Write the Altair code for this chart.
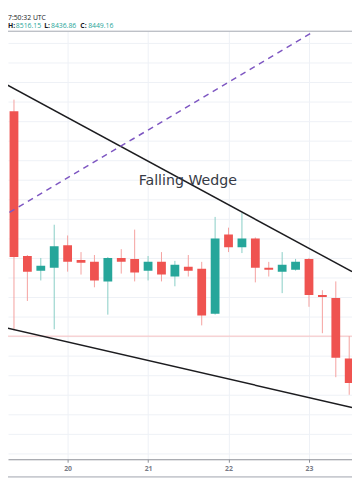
import altair as alt
import pandas as pd

# ---- data (4h candles, BTC/USD) ----
times = [
    "2019-11-19 04:00", "2019-11-19 08:00", "2019-11-19 12:00", "2019-11-19 16:00", "2019-11-19 20:00",
    "2019-11-20 00:00", "2019-11-20 04:00", "2019-11-20 08:00", "2019-11-20 12:00", "2019-11-20 16:00", "2019-11-20 20:00",
    "2019-11-21 00:00", "2019-11-21 04:00", "2019-11-21 08:00", "2019-11-21 12:00", "2019-11-21 16:00", "2019-11-21 20:00",
    "2019-11-22 00:00", "2019-11-22 04:00", "2019-11-22 08:00", "2019-11-22 12:00", "2019-11-22 16:00", "2019-11-22 20:00",
    "2019-11-23 00:00", "2019-11-23 04:00", "2019-11-23 08:00", "2019-11-23 12:00",
]
opens = [9081.66, 9024.16, 8654.16, 8616.66, 8624.16, 8681.66, 8644.16, 8639.16, 8589.16, 8649.16, 8646.66,
         8616.66, 8639.16, 8601.66, 8626.66, 8621.66, 8506.66, 8709.16, 8676.66, 8699.16, 8624.16, 8614.16,
         8619.16, 8646.66, 8554.16, 8546.66, 8391.66]
highs = [9094.16, 9054.16, 8656.66, 8649.16, 8734.16, 8706.66, 8664.16, 8656.66, 8651.66, 8671.66, 8721.66,
         8654.16, 8664.16, 8641.66, 8656.66, 8639.16, 8754.16, 8726.66, 8764.16, 8701.66, 8639.16, 8664.16,
         8646.66, 8649.16, 8566.66, 8589.16, 8449.16]
lows = [8976.66, 8464.16, 8539.16, 8591.66, 8466.66, 8614.16, 8606.66, 8574.16, 8504.16, 8609.16, 8589.16,
        8591.66, 8589.16, 8576.66, 8601.66, 8476.66, 8504.16, 8664.16, 8661.66, 8586.66, 8601.66, 8559.16,
        8616.66, 8524.16, 8456.66, 8344.16, 8299.16]
closes = [9019.16, 8651.66, 8614.16, 8629.16, 8679.16, 8639.16, 8636.66, 8591.66, 8649.16, 8639.16, 8611.66,
          8639.16, 8606.66, 8631.66, 8616.66, 8501.66, 8699.16, 8676.66, 8699.16, 8624.16, 8619.16, 8631.66,
          8639.16, 8554.16, 8549.16, 8394.16, 8329.16]

# wedge trendlines (time, price)
upper_t = ["2019-11-19 03:53", "2019-11-23 12:50"]
upper_p = [9101.66, 8614.16]
lower_t = ["2019-11-19 03:53", "2019-11-23 12:50"]
lower_p = [8474.16, 8266.66]
dash_t = ["2019-11-19 03:53", "2019-11-23 00:35"]
dash_p = [8751.66, 9224.16]

last_price = [8449.16]
day_ticks = ["2019-11-20 00:00", "2019-11-21 00:00", "2019-11-22 00:00", "2019-11-23 00:00"]
grid_prices = list(range(8150, 9250, 50))

header_time = "7:50:32 UTC"
header_labels = ["H:", "L:", "C:"]
header_values = ["8516.15", "8436.86", "8449.16"]
pattern_label = "Falling Wedge"

# ---- helpers ----
T0 = pd.Timestamp("2019-11-20 00:00")


def hours(ts):
    return [(pd.Timestamp(t) - T0) / pd.Timedelta(hours=1) for t in ts]


candles = pd.DataFrame({"h": hours(times), "open": opens, "high": highs, "low": lows, "close": closes})

x_domain = hours(["2019-11-19 06:13", "2019-11-23 12:50"])
y_domain = [8134.16, 9229.16]

W, H = 352, 438
GRID = "#eef1f6"

xs = alt.Scale(domain=x_domain, nice=False, zero=False, padding=0)
ys = alt.Scale(domain=y_domain, nice=False, zero=False, padding=0)


def X(field="h"):
    return alt.X(f"{field}:Q", scale=xs, title=None,
                 axis=alt.Axis(values=hours(day_ticks), labelExpr="datum.value/24+20",
                               grid=True, gridColor=GRID, domainColor="#8a8d96", tickColor="#8a8d96",
                               tickSize=3, labelColor="#787b86", labelFontSize=7, labelFont="Open Sans",
                               labelPadding=3, labelFontWeight="bold"))


def Y(field):
    return alt.Y(f"{field}:Q", scale=ys, title=None,
                 axis=alt.Axis(values=grid_prices, labels=False, ticks=False, domain=False,
                               grid=True, gridColor=GRID))


UP, DOWN = "#26a69a", "#ef5350"
UP_W, DOWN_W = "#86cdc5", "#f5a09e"
is_up = "datum.close >= datum.open"

price_line = alt.Chart(pd.DataFrame({"p": last_price})).mark_rule(
    color="#f8c0bf", strokeWidth=1).encode(y=Y("p"), x=alt.value(0), x2=alt.value(W))

wicks = alt.Chart(candles).mark_rule(strokeWidth=1, clip=True).encode(
    x=X(), y=Y("low"), y2="high:Q",
    color=alt.condition(is_up, alt.value(UP_W), alt.value(DOWN_W)))

bodies = alt.Chart(candles).mark_bar(size=9, clip=True).encode(
    x=X(), y=Y("open"), y2="close:Q",
    color=alt.condition(is_up, alt.value(UP), alt.value(DOWN)))


def trend(ts, ps, color, dash=None):
    df = pd.DataFrame({"h": hours(ts), "p": ps})
    kw = dict(color=color, strokeWidth=1.5, clip=True)
    if dash:
        kw["strokeDash"] = dash
    return alt.Chart(df).mark_line(**kw).encode(x=X(), y=Y("p"))


upper = trend(upper_t, upper_p, "#1c1c1f")
lower = trend(lower_t, lower_p, "#1c1c1f")
dashed = trend(dash_t, dash_p, "#7e57c2", [6, 5])


def txt(s, x, y, color, size, font="Open Sans", align="left", weight="normal"):
    return alt.Chart(pd.DataFrame({"t": [s]})).mark_text(
        align=align, baseline="middle", font=font, fontSize=size, color=color, fontWeight=weight
    ).encode(text="t:N", x=alt.value(x), y=alt.value(y))


def hrule(y, color, width):
    return alt.Chart(pd.DataFrame({"a": [0]})).mark_rule(color=color, strokeWidth=width).encode(
        x=alt.value(0), x2=alt.value(W), y=alt.value(y))


L1, L2 = -13, -5
texts = [
    txt(header_time, 0, L1, "#131722", 7),
    txt(header_labels[0], 0, L2, "#131722", 7, weight="bold"),
    txt(header_values[0], 8, L2, "#26a69a", 7),
    txt(header_labels[1], 37, L2, "#131722", 7, weight="bold"),
    txt(header_values[1], 44, L2, "#26a69a", 7),
    txt(header_labels[2], 74, L2, "#131722", 7, weight="bold"),
    txt(header_values[2], 82, L2, "#26a69a", 7),
    txt(pattern_label, 184, 153, "#363a45", 14.5, font="DejaVu Sans", align="center"),
]

chart = alt.layer(
    price_line, wicks, bodies, upper, lower, dashed,
    hrule(0, "#a3a6af", 1), hrule(456, "#c9cbd1", 2),
    *texts,
).properties(
    width=W, height=H,
    padding={"left": 0, "right": 0, "top": 18, "bottom": 40},
    autosize=alt.AutoSizeParams(type="none"),
    background="white",
).configure_view(strokeWidth=0)

chart.save("out.html", embed_options={"renderer": "svg", "actions": False})
